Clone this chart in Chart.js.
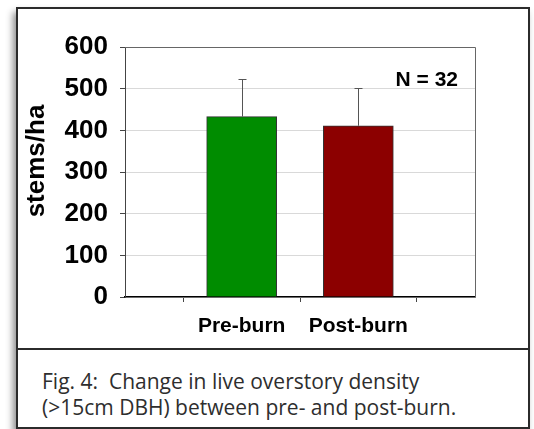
<!DOCTYPE html>
<html>
<head>
<meta charset="utf-8">
<script src="https://cdn.jsdelivr.net/npm/chart.js@4.4.1/dist/chart.umd.min.js"></script>
<style>
  body { margin: 0; background: #fff; width: 534px; height: 429px; overflow: hidden; position: relative; }
  .frame {
    position: absolute; left: 16px; top: 7px; width: 510px; height: 418px;
    border: 2px solid #2b2b2b; background: #fff;
    box-shadow: -3px 5px 7px rgba(0, 0, 0, 0.45);
  }
  .sep { position: absolute; left: 16px; top: 348px; width: 514px; height: 2px; background: #2b2b2b; }
  .caption {
    position: absolute; left: 42px; top: 368px; margin: 0;
    font-family: "Open Sans", sans-serif; font-size: 21px; line-height: 26px; color: #2e2e2e;
  }
  #chart { position: absolute; left: 0; top: 0; z-index: 1; }
</style>
</head>
<body>
<div class="frame"></div>
<div class="sep"></div>
<p class="caption">Fig. 4:&nbsp; Change in live overstory density<br>(&gt;15cm DBH) between pre- and post-burn.</p>
<canvas id="chart" width="534" height="349"></canvas>
<script>
// values
var categories = ['Pre-burn', 'Post-burn'];
var density = [433, 411];      // stems/ha
var errorPlus = [90, 90];      // upper error bar
var barColors = ['#008c00', '#8c0000'];
var yTicks = [0, 100, 200, 300, 400, 500, 600];
var sampleNote = 'N = 32';
var yTitle = 'stems/ha';

// empty slots either side so the bars sit at 1/3 and 2/3 of the axis (like the Excel plot)
var labels = [''].concat(categories, ['']);
var values = [null].concat(density, [null]);
var errors = [null].concat(errorPlus, [null]);
var colors = ['#fff'].concat(barColors, ['#fff']);

var extras = {
    id: 'extras',
    afterDatasetsDraw: function(chart) {
        var ctx = chart.ctx;
        var y = chart.scales.y;
        var area = chart.chartArea;
        ctx.save();
        // error bars (upper half only)
        ctx.strokeStyle = '#555';
        ctx.lineWidth = 1;
        chart.getDatasetMeta(0).data.forEach(function(bar, i) {
            if (values[i] == null) return;
            var top = Math.round(y.getPixelForValue(values[i] + errors[i])) + 0.5;
            var x = Math.round(bar.x) + 0.5;
            ctx.beginPath();
            ctx.moveTo(x, bar.y);
            ctx.lineTo(x, top);
            ctx.moveTo(x - 4, top);
            ctx.lineTo(x + 4, top);
            ctx.stroke();
        });
        // plot frame top and right
        ctx.strokeStyle = '#666';
        ctx.beginPath();
        ctx.moveTo(area.left, area.top + 0.5);
        ctx.lineTo(area.right + 0.5, area.top + 0.5);
        ctx.lineTo(area.right + 0.5, area.bottom);
        ctx.stroke();
        // N label
        ctx.fillStyle = '#000';
        ctx.font = 'bold 21px "Liberation Sans", Arial, sans-serif';
        ctx.textAlign = 'right';
        ctx.textBaseline = 'middle';
        ctx.fillText(sampleNote, area.right - 17, area.top + 33);
        // y axis title
        ctx.translate(37, 161);
        ctx.rotate(-Math.PI / 2);
        ctx.font = 'bold 26px "Liberation Sans", Arial, sans-serif';
        ctx.textAlign = 'center';
        ctx.fillText(yTitle, 0, 0);
        ctx.restore();
    }
};

new Chart(document.getElementById('chart'), {
    type: 'bar',
    data: {
        labels: labels,
        datasets: [{
            data: values,
            backgroundColor: colors,
            borderColor: '#333',
            borderWidth: 1,
            barThickness: 70
        }]
    },
    options: {
        responsive: false,
        animation: false,
        layout: { padding: { top: 47, right: 59, left: 0, bottom: 0 } },
        plugins: { legend: { display: false }, tooltip: { enabled: false } },
        scales: {
            x: {
                offset: false,
                afterFit: function(scale) { scale.height = 52; },
                grid: { drawOnChartArea: false, drawTicks: true, tickLength: 5, tickColor: '#444' },
                border: { color: '#000', width: 1.5 },
                ticks: {
                    autoSkip: false, maxRotation: 0, padding: 12, color: '#000',
                    font: { family: '"Liberation Sans", Arial, sans-serif', size: 21, weight: 'bold' }
                }
            },
            y: {
                min: 0,
                max: 600,
                afterFit: function(scale) { scale.width = 125; },
                afterBuildTicks: function(scale) {
                    scale.ticks = yTicks.map(function(v) { return { value: v }; });
                },
                grid: { color: '#d9d9d9', tickColor: '#444', tickLength: 5 },
                border: { color: '#444', width: 1 },
                ticks: {
                    padding: 12, color: '#000',
                    font: { family: '"Liberation Sans", Arial, sans-serif', size: 26, weight: 'bold' }
                }
            }
        }
    },
    plugins: [extras]
});
</script>
</body>
</html>
